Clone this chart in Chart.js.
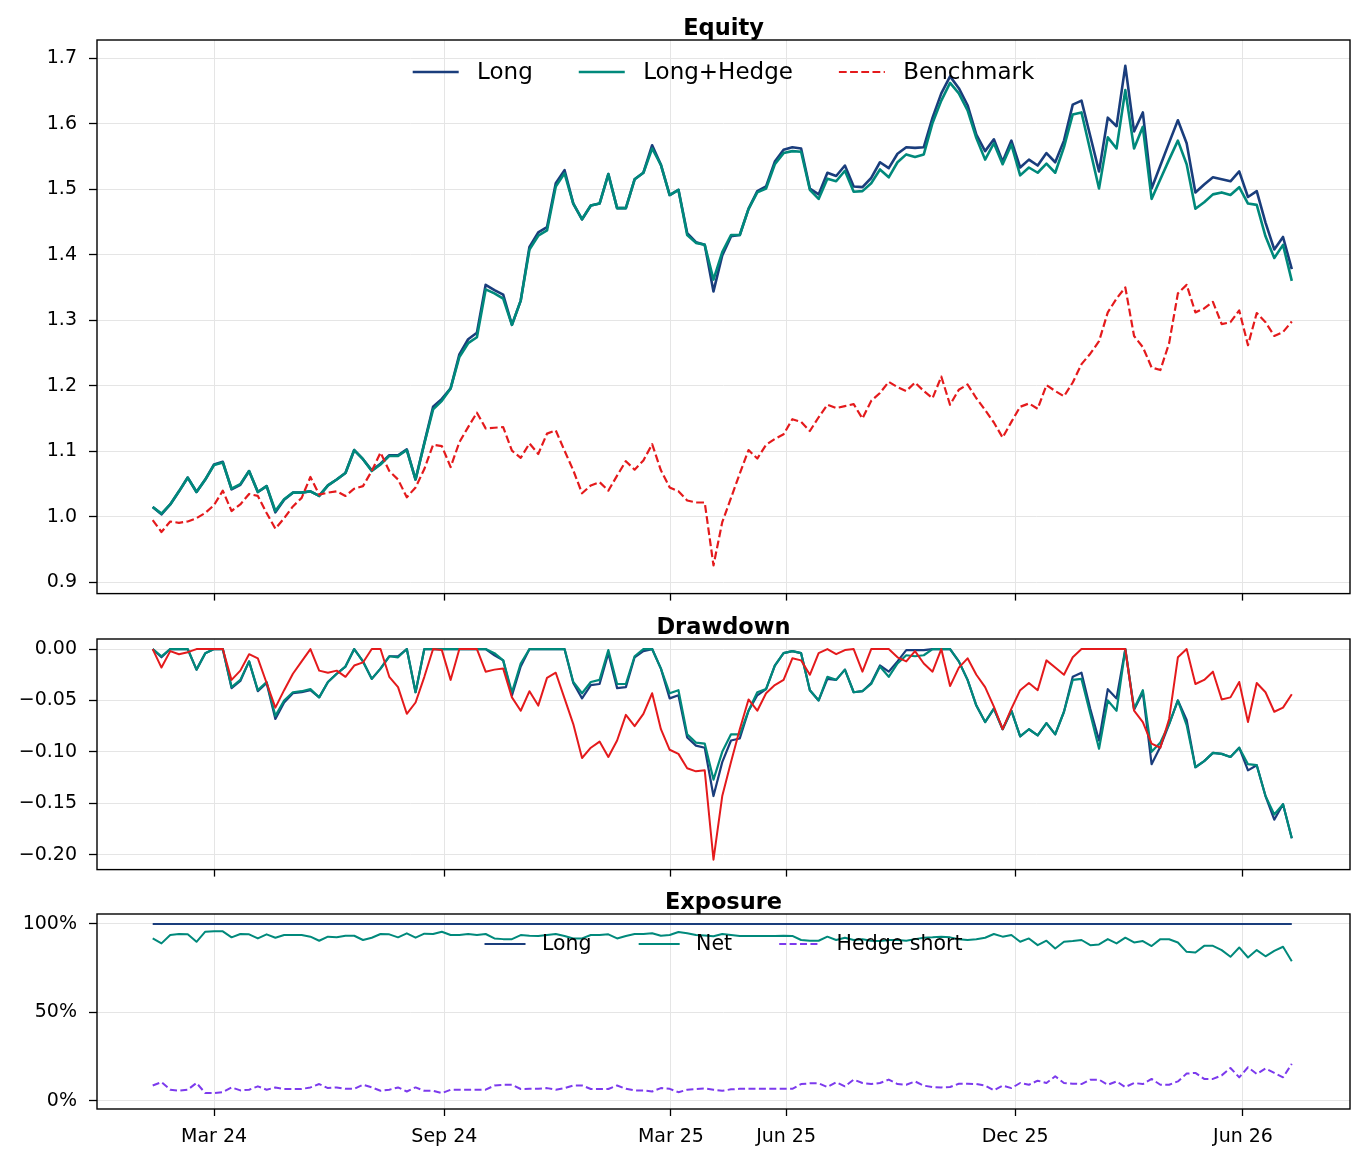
<!DOCTYPE html>
<html>
<head>
<meta charset="utf-8">
<script src="https://cdn.jsdelivr.net/npm/chart.js@4.4.1/dist/chart.umd.min.js"></script>
<style>
  body { margin: 0; background: #fff; }
  #wrap { position: relative; width: 1365px; height: 1163px; background: #fff; overflow: hidden; }
  canvas { position: absolute; left: 0; }
</style>
</head>
<body>
<div id="wrap">
  <canvas id="equityChart" width="1365" height="617" style="top:0px"></canvas>
  <canvas id="ddChart" width="1365" height="283" style="top:610px"></canvas>
  <canvas id="expChart" width="1365" height="278" style="top:885px"></canvas>
</div>
<script>
// --- sumbu waktu: hari sejak 1 Mar 2024, data mingguan mulai 12 Jan 2024 ---
const FIRST_DAY = -49;
const N_WEEKS = 131;
const weekDays = Array.from({ length: N_WEEKS }, (_, i) => FIRST_DAY + 7 * i);

const tickDays = [0, 184, 365, 457, 640, 822];
const tickLabels = ['Mar 24', 'Sep 24', 'Mar 25', 'Jun 25', 'Dec 25', 'Jun 26'];

const equityTicks = [0.9, 1.0, 1.1, 1.2, 1.3, 1.4, 1.5, 1.6, 1.7];
const ddTicks = [-0.20, -0.15, -0.10, -0.05, 0.00];
const expTicks = [0, 50, 100];

// --- Equity ---
const eqLong = [
  1.015, 1.004, 1.019, 1.039, 1.060, 1.038, 1.057, 1.080, 1.084, 1.042,
  1.049, 1.070, 1.038, 1.047, 1.007, 1.026, 1.037, 1.037, 1.039, 1.032,
  1.048, 1.057, 1.067, 1.102, 1.088, 1.071, 1.081, 1.094, 1.094, 1.103,
  1.057, 1.113, 1.168, 1.180, 1.196, 1.248, 1.271, 1.281, 1.354, 1.346,
  1.339, 1.293, 1.330, 1.412, 1.434, 1.442, 1.509, 1.529, 1.478, 1.454,
  1.475, 1.478, 1.523, 1.471, 1.471, 1.515, 1.525, 1.567, 1.537, 1.491,
  1.499, 1.433, 1.419, 1.415, 1.344, 1.399, 1.428, 1.430, 1.470, 1.497,
  1.504, 1.542, 1.560, 1.564, 1.562, 1.501, 1.492, 1.525, 1.520, 1.536,
  1.504, 1.503, 1.517, 1.541, 1.532, 1.554, 1.564, 1.563, 1.564, 1.609,
  1.646, 1.672, 1.654, 1.628, 1.583, 1.558, 1.576, 1.542, 1.574, 1.533,
  1.545, 1.536, 1.555, 1.541, 1.574, 1.629, 1.635, 1.581, 1.527, 1.609,
  1.596, 1.688, 1.588, 1.617, 1.501, 1.536, 1.571, 1.605, 1.570, 1.495,
  1.507, 1.518, 1.515, 1.512, 1.527, 1.488, 1.497, 1.449, 1.408, 1.427,
  1.378
];
const eqHedge = [
  1.015, 1.005, 1.019, 1.039, 1.060, 1.038, 1.057, 1.079, 1.083, 1.043,
  1.050, 1.070, 1.038, 1.047, 1.009, 1.027, 1.037, 1.037, 1.039, 1.032,
  1.048, 1.057, 1.067, 1.102, 1.088, 1.070, 1.080, 1.093, 1.093, 1.102,
  1.057, 1.112, 1.164, 1.177, 1.196, 1.244, 1.265, 1.274, 1.347, 1.341,
  1.333, 1.293, 1.330, 1.408, 1.429, 1.437, 1.504, 1.524, 1.478, 1.454,
  1.475, 1.478, 1.523, 1.471, 1.471, 1.515, 1.525, 1.562, 1.537, 1.491,
  1.499, 1.430, 1.418, 1.415, 1.362, 1.404, 1.430, 1.430, 1.470, 1.495,
  1.501, 1.538, 1.555, 1.558, 1.557, 1.499, 1.485, 1.516, 1.512, 1.528,
  1.496, 1.497, 1.509, 1.530, 1.518, 1.541, 1.553, 1.549, 1.553, 1.601,
  1.635, 1.662, 1.646, 1.620, 1.578, 1.545, 1.570, 1.538, 1.568, 1.521,
  1.533, 1.525, 1.539, 1.525, 1.564, 1.614, 1.617, 1.559, 1.501, 1.579,
  1.562, 1.651, 1.562, 1.595, 1.485, 1.515, 1.545, 1.574, 1.538, 1.470,
  1.480, 1.492, 1.495, 1.491, 1.503, 1.478, 1.476, 1.428, 1.395, 1.415,
  1.360
];
const eqBench = [
  0.995, 0.977, 0.993, 0.991, 0.993, 0.998, 1.006, 1.018, 1.040, 1.009,
  1.019, 1.035, 1.032, 1.006, 0.982, 0.998, 1.016, 1.029, 1.061, 1.034,
  1.037, 1.039, 1.032, 1.043, 1.047, 1.070, 1.098, 1.070, 1.057, 1.030,
  1.045, 1.073, 1.110, 1.108, 1.076, 1.114, 1.137, 1.159, 1.135, 1.136,
  1.137, 1.101, 1.090, 1.112, 1.096, 1.127, 1.132, 1.101, 1.071, 1.036,
  1.048, 1.053, 1.040, 1.063, 1.085, 1.072, 1.086, 1.111, 1.071, 1.045,
  1.039, 1.025, 1.022, 1.022, 0.926, 0.992, 1.029, 1.066, 1.102, 1.089,
  1.110, 1.119, 1.126, 1.149, 1.145, 1.131, 1.152, 1.171, 1.166, 1.169,
  1.172, 1.150, 1.177, 1.189, 1.206, 1.198, 1.192, 1.205, 1.192, 1.181,
  1.214, 1.171, 1.194, 1.202, 1.181, 1.163, 1.144, 1.121, 1.145, 1.168,
  1.173, 1.165, 1.201, 1.192, 1.184, 1.205, 1.233, 1.249, 1.268, 1.312,
  1.333, 1.350, 1.276, 1.259, 1.228, 1.224, 1.265, 1.341, 1.354, 1.312,
  1.318, 1.328, 1.294, 1.297, 1.315, 1.262, 1.311, 1.297, 1.276, 1.282,
  1.298
];

// --- Drawdown ---
const ddLong = [
  0, -0.008, 0, 0, 0, -0.020, -0.004, 0, 0, -0.038,
  -0.031, -0.012, -0.041, -0.033, -0.068, -0.052, -0.043, -0.042, -0.040, -0.047,
  -0.032, -0.024, -0.017, 0, -0.012, -0.029, -0.019, -0.007, -0.007, 0,
  -0.042, 0, 0, 0, 0, 0, 0, 0, 0, -0.006,
  -0.011, -0.045, -0.017, 0, 0, 0, 0, 0, -0.033, -0.048,
  -0.035, -0.034, -0.004, -0.038, -0.037, -0.008, -0.002, 0, -0.019, -0.048,
  -0.045, -0.086, -0.094, -0.096, -0.143, -0.110, -0.089, -0.087, -0.060, -0.045,
  -0.039, -0.016, -0.004, -0.002, -0.004, -0.040, -0.050, -0.029, -0.030, -0.020,
  -0.042, -0.041, -0.033, -0.016, -0.022, -0.012, -0.001, -0.001, -0.001, 0,
  0, 0, -0.012, -0.030, -0.055, -0.071, -0.058, -0.078, -0.060, -0.085,
  -0.078, -0.084, -0.072, -0.083, -0.061, -0.027, -0.023, -0.058, -0.089, -0.039,
  -0.048, 0, -0.059, -0.042, -0.112, -0.095, -0.073, -0.050, -0.069, -0.115,
  -0.109, -0.101, -0.102, -0.105, -0.096, -0.118, -0.113, -0.143, -0.166, -0.151,
  -0.184
];
const ddHedge = [
  0, -0.007, 0, 0, 0, -0.020, -0.004, 0, 0, -0.037,
  -0.030, -0.012, -0.040, -0.032, -0.065, -0.050, -0.042, -0.041, -0.039, -0.047,
  -0.032, -0.024, -0.017, 0, -0.012, -0.029, -0.019, -0.007, -0.008, 0,
  -0.042, 0, 0, 0, 0, 0, 0, 0, 0, -0.004,
  -0.011, -0.042, -0.014, 0, 0, 0, 0, 0, -0.032, -0.043,
  -0.032, -0.030, -0.001, -0.034, -0.034, -0.007, 0, 0, -0.019, -0.043,
  -0.040, -0.083, -0.091, -0.092, -0.127, -0.100, -0.083, -0.083, -0.060, -0.042,
  -0.039, -0.016, -0.004, -0.002, -0.004, -0.040, -0.050, -0.027, -0.030, -0.020,
  -0.042, -0.041, -0.034, -0.017, -0.027, -0.014, -0.006, -0.007, -0.006, 0,
  0, 0, -0.012, -0.030, -0.055, -0.071, -0.058, -0.078, -0.060, -0.085,
  -0.078, -0.084, -0.072, -0.083, -0.061, -0.030, -0.029, -0.063, -0.097, -0.050,
  -0.060, 0, -0.058, -0.040, -0.100, -0.091, -0.073, -0.050, -0.074, -0.115,
  -0.109, -0.101, -0.102, -0.105, -0.096, -0.112, -0.113, -0.143, -0.161, -0.151,
  -0.184
];
const ddBench = [
  0, -0.018, -0.002, -0.005, -0.003, 0, 0, 0, 0, -0.030,
  -0.021, -0.005, -0.009, -0.033, -0.057, -0.040, -0.024, -0.012, 0, -0.021,
  -0.023, -0.021, -0.027, -0.016, -0.013, 0, 0, -0.027, -0.037, -0.063,
  -0.052, -0.027, 0, -0.001, -0.030, 0, 0, 0, -0.022, -0.020,
  -0.019, -0.047, -0.060, -0.041, -0.055, -0.028, -0.023, -0.048, -0.073, -0.106,
  -0.096, -0.090, -0.105, -0.089, -0.064, -0.075, -0.063, -0.043, -0.078, -0.098,
  -0.102, -0.116, -0.119, -0.118, -0.205, -0.143, -0.110, -0.078, -0.049, -0.060,
  -0.043, -0.035, -0.030, -0.009, -0.011, -0.025, -0.004, 0, -0.005, -0.001,
  0, -0.022, 0, 0, 0, -0.008, -0.012, -0.002, -0.014, -0.022,
  0, -0.036, -0.018, -0.009, -0.025, -0.037, -0.056, -0.078, -0.058, -0.040,
  -0.033, -0.040, -0.011, -0.018, -0.025, -0.008, 0, 0, 0, 0,
  0, 0, -0.060, -0.071, -0.092, -0.096, -0.068, -0.008, 0, -0.034,
  -0.030, -0.022, -0.049, -0.047, -0.032, -0.071, -0.033, -0.042, -0.061, -0.057,
  -0.044
];

// --- Exposure (%) ---
const expLong = [
  100, 100, 100, 100, 100, 100, 100, 100, 100, 100,
  100, 100, 100, 100, 100, 100, 100, 100, 100, 100,
  100, 100, 100, 100, 100, 100, 100, 100, 100, 100,
  100, 100, 100, 100, 100, 100, 100, 100, 100, 100,
  100, 100, 100, 100, 100, 100, 100, 100, 100, 100,
  100, 100, 100, 100, 100, 100, 100, 100, 100, 100,
  100, 100, 100, 100, 100, 100, 100, 100, 100, 100,
  100, 100, 100, 100, 100, 100, 100, 100, 100, 100,
  100, 100, 100, 100, 100, 100, 100, 100, 100, 100,
  100, 100, 100, 100, 100, 100, 100, 100, 100, 100,
  100, 100, 100, 100, 100, 100, 100, 100, 100, 100,
  100, 100, 100, 100, 100, 100, 100, 100, 100, 100,
  100, 100, 100, 100, 100, 100, 100, 100, 100, 100,
  100
];
const expNet = [
  91.8, 89.0, 93.7, 94.3, 94.1, 89.9, 95.6, 95.8, 95.8, 92.4,
  94.3, 94.1, 91.8, 94.1, 92.2, 93.7, 93.7, 93.7, 92.8, 90.5,
  92.8, 92.4, 93.3, 93.3, 90.9, 92.2, 94.3, 94.1, 92.4, 94.7,
  92.2, 94.5, 94.3, 95.6, 93.7, 93.7, 94.3, 93.7, 94.3, 91.8,
  91.4, 91.4, 93.7, 93.3, 93.2, 93.7, 94.3, 93.2, 91.8, 91.8,
  93.7, 93.7, 94.1, 91.8, 93.2, 94.3, 94.3, 94.7, 93.3, 93.7,
  95.4, 94.7, 93.7, 93.5, 93.0, 94.3, 93.7, 93.2, 93.2, 93.2,
  93.2, 93.2, 93.3, 93.2, 90.9, 90.5, 90.5, 92.8, 90.9, 92.2,
  90.9, 91.3, 90.5, 90.3, 90.9, 90.9, 90.5, 91.4, 92.2, 92.4,
  92.8, 92.4, 91.3, 90.9, 91.3, 92.2, 94.3, 92.8, 93.7, 89.9,
  91.8, 88.0, 90.5, 86.1, 89.9, 90.3, 90.9, 88.0, 88.4, 91.4,
  89.0, 92.2, 89.5, 90.3, 87.5, 91.4, 91.3, 89.5, 84.2, 83.8,
  87.6, 87.6, 85.2, 81.4, 86.7, 81.0, 85.2, 81.7, 84.8, 87.1,
  78.9
];
const expHedge = [
  8.7, 10.6, 6.3, 5.7, 6.3, 10.1, 4.4, 4.4, 4.9, 7.6,
  5.9, 6.3, 8.2, 6.3, 7.6, 6.7, 6.7, 6.7, 7.6, 9.5,
  7.2, 7.6, 6.8, 6.8, 9.1, 7.6, 5.7, 6.3, 7.6, 5.3,
  7.6, 5.7, 5.7, 4.4, 6.3, 6.3, 6.3, 6.3, 6.3, 8.7,
  9.1, 9.1, 6.7, 6.8, 6.8, 7.2, 6.3, 7.2, 8.7, 8.7,
  6.7, 6.7, 6.7, 8.7, 6.8, 5.9, 5.9, 5.3, 7.2, 6.8,
  4.9, 6.3, 6.7, 7.0, 6.3, 5.7, 6.5, 6.8, 6.8, 6.8,
  6.8, 6.8, 6.8, 6.8, 9.5, 9.9, 9.9, 7.8, 10.5, 8.2,
  12.0, 10.1, 9.5, 10.1, 12.0, 9.5, 9.1, 11.0, 8.6, 7.8,
  7.6, 7.8, 9.7, 9.7, 9.5, 8.7, 5.9, 8.6, 7.2, 10.1,
  9.1, 11.4, 10.1, 13.9, 10.1, 9.7, 9.5, 12.0, 12.0, 9.1,
  11.0, 7.8, 10.1, 9.5, 12.4, 9.1, 9.1, 11.0, 15.4, 15.8,
  12.4, 12.4, 14.4, 18.6, 13.3, 19.0, 15.2, 18.3, 15.8, 13.3,
  20.9
];

// --- gaya ---
const NAVY = '#1a3d7c';
const TEAL = '#00897b';
const RED = '#e41a1c';
const PURPLE = '#7c3aed';
const GRID = '#e5e5e5';
const X_MIN = -93.5, X_MAX = 907.5;
const TICK_FONT = 19;

Chart.defaults.font.family = '"DejaVu Sans", sans-serif';
Chart.defaults.color = '#000';

function pts(arr) {
  return arr.map((v, i) => ({ x: weekDays[i], y: v }));
}

function line(label, arr, color, width, dash, order) {
  return {
    label: label,
    data: pts(arr),
    borderColor: color,
    backgroundColor: color,
    borderWidth: width,
    borderDash: dash || [],
    borderJoinStyle: 'round',
    pointRadius: 0,
    tension: 0,
    fill: false,
    order: order
  };
}

function xAxis(showLabels, height) {
  return {
    type: 'linear',
    min: X_MIN,
    max: X_MAX,
    afterBuildTicks: s => { s.ticks = tickDays.map(v => ({ value: v })); },
    afterFit: s => { s.height = height; },
    grid: { color: GRID, lineWidth: 1, drawTicks: true, tickLength: 7, tickColor: '#000', tickWidth: 1.3 },
    border: { display: false },
    ticks: {
      display: showLabels, autoSkip: false, maxRotation: 0, padding: 10,
      font: { size: TICK_FONT }, color: '#000',
      callback: v => tickLabels[tickDays.indexOf(v)]
    }
  };
}

function yAxis(min, max, ticks, fmt) {
  return {
    min: min,
    max: max,
    afterBuildTicks: s => { s.ticks = ticks.map(v => ({ value: v })); },
    afterFit: s => { s.width = 97; },
    grid: { color: GRID, lineWidth: 1, drawTicks: true, tickLength: 8, tickColor: '#000', tickWidth: 1.3 },
    border: { display: false },
    ticks: { padding: 12, font: { size: TICK_FONT }, color: '#000', callback: fmt }
  };
}

// bingkai, judul panel, legenda gaya matplotlib
const panelDecor = {
  id: 'panelDecor',
  afterDatasetsDraw(chart, args, opts) {
    const ctx = chart.ctx;
    const a = chart.chartArea;
    ctx.save();
    ctx.strokeStyle = '#000';
    ctx.lineWidth = 1.4;
    ctx.strokeRect(a.left, a.top, a.right - a.left, a.bottom - a.top);

    ctx.fillStyle = '#000';
    ctx.font = 'bold 22.5px "DejaVu Sans"';
    ctx.textAlign = 'center';
    ctx.textBaseline = 'alphabetic';
    ctx.fillText(opts.title, (a.left + a.right) / 2, a.top - 5);

    if (opts.legendSize) {
      const F = opts.legendSize;
      ctx.font = F + 'px "DejaVu Sans"';
      const items = chart.data.datasets.map(d => ({ d: d, w: ctx.measureText(d.label).width }));
      const handle = 2 * F, pad = 0.8 * F, gap = opts.colGap * F;
      let total = items.reduce((s, it) => s + handle + pad + it.w, 0) + gap * (items.length - 1);
      let x = (a.left + a.right) / 2 - total / 2;
      const y = a.top + opts.legendY;
      items.forEach(it => {
        ctx.strokeStyle = it.d.borderColor;
        ctx.lineWidth = it.d.borderWidth;
        ctx.setLineDash(it.d.borderDash || []);
        ctx.beginPath();
        ctx.moveTo(x, y);
        ctx.lineTo(x + handle, y);
        ctx.stroke();
        ctx.setLineDash([]);
        ctx.fillStyle = '#000';
        ctx.textAlign = 'left';
        ctx.textBaseline = 'middle';
        ctx.fillText(it.d.label, x + handle + pad, y + 1);
        x += handle + pad + it.w + gap;
      });
    }
    ctx.restore();
  }
};

function baseOptions(padTop, decor, xCfg, yCfg) {
  return {
    responsive: false,
    animation: false,
    layout: { padding: { top: padTop, right: 15, left: 0, bottom: 0 } },
    plugins: { legend: { display: false }, tooltip: { enabled: false }, panelDecor: decor },
    scales: { x: xCfg, y: yCfg }
  };
}

new Chart(document.getElementById('equityChart'), {
  type: 'line',
  data: {
    datasets: [
      line('Long', eqLong, NAVY, 2.6, null, 3),
      line('Long+Hedge', eqHedge, TEAL, 2.6, null, 2),
      line('Benchmark', eqBench, RED, 2.2, [7.8, 3.4], 1)
    ]
  },
  options: baseOptions(40,
    { title: 'Equity', legendSize: 23, legendY: 32, colGap: 2.0 },
    xAxis(false, 22),
    yAxis(0.883, 1.7275, equityTicks, v => v.toFixed(1))),
  plugins: [panelDecor]
});

new Chart(document.getElementById('ddChart'), {
  type: 'line',
  data: {
    datasets: [
      line('Long', ddLong, NAVY, 2.2, null, 3),
      line('Long+Hedge', ddHedge, TEAL, 2.2, null, 2),
      line('Benchmark', ddBench, RED, 2.0, null, 1)
    ]
  },
  options: baseOptions(29,
    { title: 'Drawdown' },
    xAxis(false, 22),
    yAxis(-0.2146, 0.0098, ddTicks, v => (Math.abs(v) < 1e-9 ? '0.00' : '\u2212' + Math.abs(v).toFixed(2)))),
  plugins: [panelDecor]
});

new Chart(document.getElementById('expChart'), {
  type: 'line',
  data: {
    datasets: [
      line('Long', expLong, NAVY, 2.0, null, 3),
      line('Net', expNet, TEAL, 2.0, null, 2),
      line('Hedge short', expHedge, PURPLE, 2.0, [7, 3.4], 1)
    ]
  },
  options: baseOptions(29,
    { title: 'Exposure', legendSize: 20.5, legendY: 30, colGap: 2.3 },
    xAxis(true, 54),
    yAxis(-4.6, 105.6, expTicks, v => v + '%')),
  plugins: [panelDecor]
});
</script>
</body>
</html>
